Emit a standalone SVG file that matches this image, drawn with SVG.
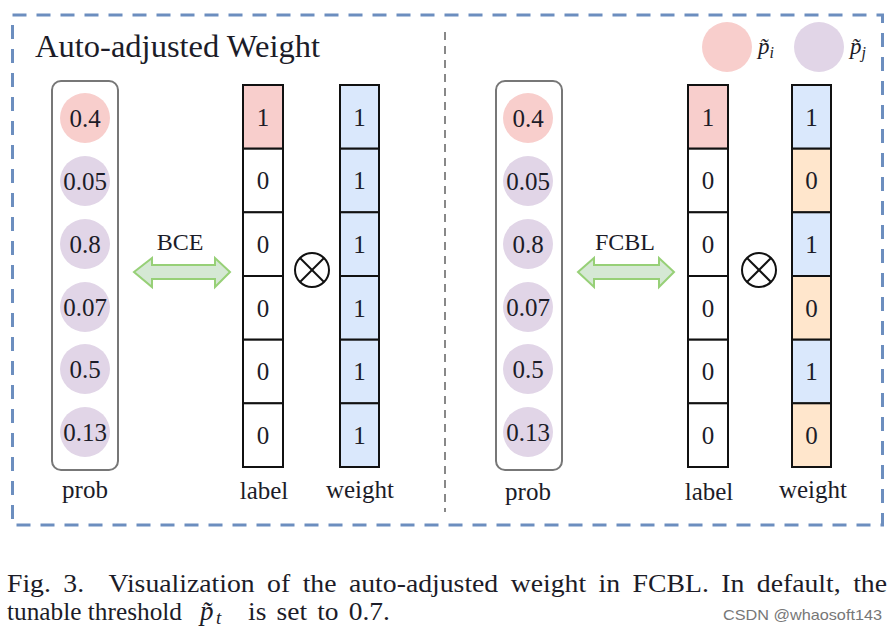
<svg xmlns="http://www.w3.org/2000/svg" width="895" height="631" viewBox="0 0 895 631">
<style>
.t{fill:#1c1c28}
.num{font-size:25px;text-anchor:middle;dominant-baseline:central}
.lab{font-size:25px;text-anchor:middle}
.cell{stroke:#111;stroke-width:2}
.w{fill:#ffffff}
.pk{fill:#f8cecc}
.bl{fill:#dae8fc}
.or{fill:#ffe6cc}
.cp{fill:#f8cecc}
.cv{fill:#e1d5e7}
.probbox{fill:#fff;stroke:#777;stroke-width:2}
.arr{fill:#d5e8d4;stroke:#97d077;stroke-width:2;stroke-linejoin:miter}
.ot{fill:none;stroke:#111;stroke-width:2}
</style>
<rect width="895" height="631" fill="#fff"/>
<g font-family="Liberation Serif, Times New Roman, serif">
<!-- outer dashed frame -->
<rect id="frame" x="12.5" y="15" width="870" height="510" fill="none" stroke="#6c8ebf" stroke-width="3" stroke-dasharray="14 10"/>
<line id="divider" x1="445" y1="32" x2="445" y2="512" stroke="#888" stroke-width="2" stroke-dasharray="8 6"/>
<text class="t" x="35" y="57" font-size="32" textLength="285" lengthAdjust="spacingAndGlyphs">Auto-adjusted Weight</text>

<!-- legend -->
<g id="legend">
<circle cx="727" cy="47" r="25" class="cp"/>
<text class="t" x="758" y="54" font-size="23" font-style="italic">p̃<tspan font-size="16" dy="4">i</tspan></text>
<circle cx="819" cy="47" r="25" class="cv"/>
<text class="t" x="850" y="54" font-size="23" font-style="italic">p̃<tspan font-size="16" dy="4">j</tspan></text>
</g>

<!-- LEFT PANEL -->
<g id="prob-left">
<rect class="probbox" x="52" y="81" width="66" height="389" rx="9"/>
<circle cx="85" cy="118" r="25" class="cp"/><text class="t num" x="85" y="118">0.4</text>
<circle cx="85" cy="181" r="25" class="cv"/><text class="t num" x="85" y="181">0.05</text>
<circle cx="85" cy="244" r="25" class="cv"/><text class="t num" x="85" y="244">0.8</text>
<circle cx="85" cy="307" r="25" class="cv"/><text class="t num" x="85" y="307">0.07</text>
<circle cx="85" cy="369" r="25" class="cv"/><text class="t num" x="85" y="369">0.5</text>
<circle cx="85" cy="432" r="25" class="cv"/><text class="t num" x="85" y="432">0.13</text>
<text class="t lab" x="85" y="498">prob</text>
</g>
<g id="label-left">
<rect class="cell pk" x="243" y="85" width="40" height="63.7"/><text class="t num" x="263" y="117">1</text>
<rect class="cell w" x="243" y="148.7" width="40" height="63.7"/><text class="t num" x="263" y="180.5">0</text>
<rect class="cell w" x="243" y="212.3" width="40" height="63.7"/><text class="t num" x="263" y="244">0</text>
<rect class="cell w" x="243" y="276" width="40" height="63.7"/><text class="t num" x="263" y="308">0</text>
<rect class="cell w" x="243" y="339.7" width="40" height="63.7"/><text class="t num" x="263" y="371.5">0</text>
<rect class="cell w" x="243" y="403.3" width="40" height="63.7"/><text class="t num" x="263" y="435">0</text>
<text class="t lab" x="264" y="499">label</text>
</g>
<g id="weight-left">
<rect class="cell bl" x="340" y="85" width="39" height="63.7"/><text class="t num" x="359.5" y="117">1</text>
<rect class="cell bl" x="340" y="148.7" width="39" height="63.7"/><text class="t num" x="359.5" y="180.5">1</text>
<rect class="cell bl" x="340" y="212.3" width="39" height="63.7"/><text class="t num" x="359.5" y="244">1</text>
<rect class="cell bl" x="340" y="276" width="39" height="63.7"/><text class="t num" x="359.5" y="308">1</text>
<rect class="cell bl" x="340" y="339.7" width="39" height="63.7"/><text class="t num" x="359.5" y="371.5">1</text>
<rect class="cell bl" x="340" y="403.3" width="39" height="63.7"/><text class="t num" x="359.5" y="435">1</text>
<text class="t lab" x="360" y="498">weight</text>
</g>
<g id="otimes-left">
<circle class="ot" cx="312" cy="270" r="17"/>
<line class="ot" x1="300" y1="258" x2="324" y2="282"/>
<line class="ot" x1="324" y1="258" x2="300" y2="282"/>
</g>

<!-- RIGHT PANEL -->
<g id="prob-right">
<rect class="probbox" x="496" y="81" width="66" height="389" rx="9"/>
<circle cx="528" cy="118" r="25" class="cp"/><text class="t num" x="528" y="118">0.4</text>
<circle cx="528" cy="181" r="25" class="cv"/><text class="t num" x="528" y="181">0.05</text>
<circle cx="528" cy="244" r="25" class="cv"/><text class="t num" x="528" y="244">0.8</text>
<circle cx="528" cy="307" r="25" class="cv"/><text class="t num" x="528" y="307">0.07</text>
<circle cx="528" cy="369" r="25" class="cv"/><text class="t num" x="528" y="369">0.5</text>
<circle cx="528" cy="432" r="25" class="cv"/><text class="t num" x="528" y="432">0.13</text>
<text class="t lab" x="528" y="500">prob</text>
</g>
<g id="label-right">
<rect class="cell pk" x="688" y="85" width="40" height="63.7"/><text class="t num" x="708" y="117">1</text>
<rect class="cell w" x="688" y="148.7" width="40" height="63.7"/><text class="t num" x="708" y="180.5">0</text>
<rect class="cell w" x="688" y="212.3" width="40" height="63.7"/><text class="t num" x="708" y="244">0</text>
<rect class="cell w" x="688" y="276" width="40" height="63.7"/><text class="t num" x="708" y="308">0</text>
<rect class="cell w" x="688" y="339.7" width="40" height="63.7"/><text class="t num" x="708" y="371.5">0</text>
<rect class="cell w" x="688" y="403.3" width="40" height="63.7"/><text class="t num" x="708" y="435">0</text>
<text class="t lab" x="709" y="500">label</text>
</g>
<g id="weight-right">
<rect class="cell bl" x="792" y="85" width="39" height="63.7"/><text class="t num" x="811.5" y="117">1</text>
<rect class="cell or" x="792" y="148.7" width="39" height="63.7"/><text class="t num" x="811.5" y="180.5">0</text>
<rect class="cell bl" x="792" y="212.3" width="39" height="63.7"/><text class="t num" x="811.5" y="244">1</text>
<rect class="cell or" x="792" y="276" width="39" height="63.7"/><text class="t num" x="811.5" y="308">0</text>
<rect class="cell bl" x="792" y="339.7" width="39" height="63.7"/><text class="t num" x="811.5" y="371.5">1</text>
<rect class="cell or" x="792" y="403.3" width="39" height="63.7"/><text class="t num" x="811.5" y="435">0</text>
<text class="t lab" x="813" y="498">weight</text>
</g>
<g id="otimes-right">
<circle class="ot" cx="759" cy="270" r="17"/>
<line class="ot" x1="747" y1="258" x2="771" y2="282"/>
<line class="ot" x1="771" y1="258" x2="747" y2="282"/>
</g>

<!-- connectors -->
<g id="connectors">
<path class="arr" d="M134,272 L152,258 L152,265 L215,265 L215,258 L230,272 L215,287 L215,279 L152,279 L152,287 Z"/>
<text class="t" x="180" y="250" font-size="24" text-anchor="middle">BCE</text>
<path class="arr" d="M578,272 L594,258 L594,265 L659,265 L659,258 L674,272 L659,287 L659,279 L594,279 L594,287 Z"/>
<text class="t" x="625" y="250" font-size="24" text-anchor="middle">FCBL</text>
</g>

<!-- caption -->
<text class="t" x="7" y="592" font-size="25" word-spacing="5" textLength="880" lengthAdjust="spacingAndGlyphs" xml:space="preserve">Fig. 3.  Visualization of the auto-adjusted weight in FCBL. In default, the</text>
<text class="t" x="7" y="620" font-size="25" textLength="175" lengthAdjust="spacingAndGlyphs">tunable threshold</text>
<text class="t" x="200" y="620" font-size="27" font-style="italic">p̃</text>
<text class="t" x="216" y="624" font-size="19" font-style="italic">t</text>
<text class="t" x="248" y="620" font-size="25" word-spacing="3" textLength="142" lengthAdjust="spacingAndGlyphs">is set to 0.7.</text>
</g>
<text x="723" y="620" font-family="Liberation Sans, Arial, sans-serif" font-size="15" fill="#777" textLength="159" lengthAdjust="spacingAndGlyphs">CSDN @whaosoft143</text>
</svg>
